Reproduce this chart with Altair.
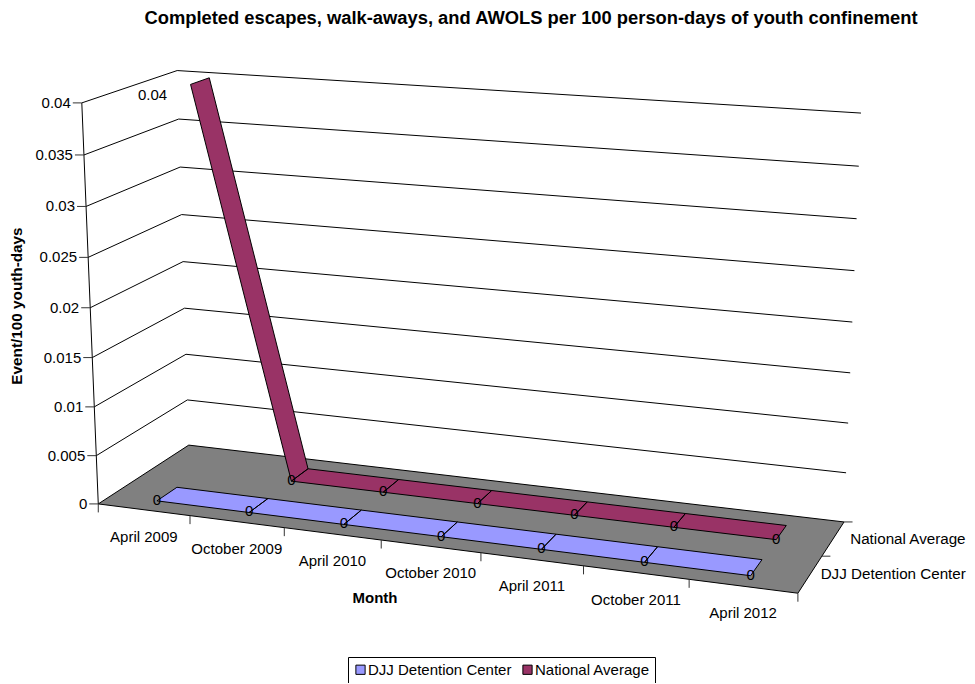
import altair as alt
import numpy as np
import pandas as pd

TITLE = "Completed escapes, walk-aways, and AWOLS per 100 person-days of youth confinement"
MONTHS = ["April 2009", "October 2009", "April 2010", "October 2010", "April 2011", "October 2011", "April 2012"]
SERIES = ["DJJ Detention Center", "National Average"]
DJJ_VALUES = [0, 0, 0, 0, 0, 0, 0]
NATIONAL_VALUES = [0.04, 0, 0, 0, 0, 0, 0]
VALUE_TICKS = [0, 0.005, 0.01, 0.015, 0.02, 0.025, 0.03, 0.035, 0.04]
VALUE_LABELS = ["0", "0.005", "0.01", "0.015", "0.02", "0.025", "0.03", "0.035", "0.04"]
VMAX = 0.04
RIBBON_DEPTH = {"DJJ Detention Center": (0.14, 0.36), "National Average": (0.645, 0.855)}
COLORS = ["#9999FF", "#993366"]
FONT = "Liberation Sans"
FS = 15

# camera calibration: (month fraction, depth fraction, height fraction) -> page pixel
CAL_SCENE = [(0, 0, 0), (1, 0, 0), (0, 1, 0), (1, 1, 0), (0, 0, 1), (0, 1, 1), (1, 1, 1), (1, 1, 0.125)]
CAL_PIXEL = [(98, 504), (798, 593), (189, 445), (844, 522), (82, 103), (177, 70.5), (861, 113), (846, 473)]

rows = []
for (a, b, c), (px, py) in zip(CAL_SCENE, CAL_PIXEL):
    rows.append([a, b, c, 1, 0, 0, 0, 0, -px * a, -px * b, -px * c, -px])
    rows.append([0, 0, 0, 0, a, b, c, 1, -py * a, -py * b, -py * c, -py])
P = np.linalg.svd(np.array(rows, float))[2][-1].reshape(3, 4)


def proj(u, v, w):
    h = P @ np.array([u, v, w, 1.0])
    return float(h[0] / h[2]), float(h[1] / h[2])


def lines(paths):
    out = []
    for g, path in enumerate(paths):
        for o, (x, y) in enumerate(path):
            out.append({"g": g, "o": o, "x": x, "y": y})
    return pd.DataFrame(out)


def area_rows(name, pts, series=None):
    out = []
    n = len(pts)
    for x in sorted({round(p[0], 4) for p in pts}):
        ys = []
        for i in range(n):
            (x0, y0), (x1, y1) = pts[i], pts[(i + 1) % n]
            lo, hi = min(x0, x1), max(x0, x1)
            if lo - 1e-3 <= x <= hi + 1e-3:
                if abs(x1 - x0) < 1e-6:
                    ys += [y0, y1]
                else:
                    ys.append(y0 + (y1 - y0) * (x - x0) / (x1 - x0))
        out.append({"g": name, "x": x, "y": min(ys), "y2": max(ys), "Series": series})
    return out


PAD_TOP = 40
W, H = 959, 675 - PAD_TOP
xs = alt.Scale(domain=[8, 8 + W], range=[0, W])
ys = alt.Scale(domain=[8 + PAD_TOP, 8 + PAD_TOP + H], range=[0, H])
X = alt.X("x:Q", scale=xs, axis=None)
Y = alt.Y("y:Q", scale=ys, axis=None)


def line_layer(df, color="black", width=1.0):
    return alt.Chart(df).mark_line(color=color, strokeWidth=width).encode(x=X, y=Y, detail="g:N", order="o:Q")


def text_layer(df, align="center", bold=False, angle=0, size=FS):
    return alt.Chart(df).mark_text(font=FONT, fontSize=size, color="black", align=align, baseline="middle",
                                   fontWeight="bold" if bold else "normal", angle=angle).encode(x=X, y=Y, text="t:N")


n = len(MONTHS)
uc = [(i + 0.5) / n for i in range(n)]

# walls
wall = []
for t in VALUE_TICKS[1:]:
    w = t / VMAX
    wall.append([proj(0, 0, w), proj(0, 1, w), proj(1, 1, w)])
wall.append([proj(0, 0, 0), proj(0, 0, 1)])

# floor
floor_pts = [proj(0, 0, 0), proj(1, 0, 0), proj(1, 1, 0), proj(0, 1, 0)]
floor_df = pd.DataFrame(area_rows("floor", floor_pts))

# ticks
ticks = []
for i in range(n + 1):
    x, y = proj(i / n, 0, 0)
    ticks.append([(x, y), (x, y + 8.5)])
for v in (0.5, 1):
    x, y = proj(1, v, 0)
    ticks.append([(x, y), (x + 8.5, y)])
for t in VALUE_TICKS:
    x, y = proj(0, 0, t / VMAX)
    ticks.append([(x - 9, y), (x, y)])

# ribbons
ribbon_rows, ribbon_paths, point_labels, peak_labels = [], [], [], []
for s, vals in zip(SERIES, [DJJ_VALUES, NATIONAL_VALUES]):
    vf, vb = RIBBON_DEPTH[s]
    for i in range(n - 1):
        w0, w1 = vals[i] / VMAX, vals[i + 1] / VMAX
        poly = [proj(uc[i], vf, w0), proj(uc[i + 1], vf, w1), proj(uc[i + 1], vb, w1), proj(uc[i], vb, w0)]
        ribbon_rows += area_rows(f"{s}{i}", poly, s)
        ribbon_paths.append(poly + [poly[0]])
    for i, val in enumerate(vals):
        x, y = proj(uc[i], vf, val / VMAX)
        if val:
            peak_labels.append({"x": x - 38, "y": y + 11, "t": str(val)})
        else:
            point_labels.append({"x": x, "y": y - 1, "t": str(val)})

ribbon_df = pd.DataFrame(ribbon_rows)

cat_labels = []
for i, m in enumerate(MONTHS):
    x, y = proj(uc[i], 0, 0)
    cat_labels.append({"x": x, "y": y + 27, "t": m})

val_labels = []
for t, lab in zip(VALUE_TICKS, VALUE_LABELS):
    x, y = proj(0, 0, t / VMAX)
    val_labels.append({"x": x - 11, "y": y, "t": lab})

depth_labels = []
for s, v, dx in zip(SERIES, (0.25, 0.75), (10.5, 17)):
    x, y = proj(1, v, 0)
    depth_labels.append({"x": x + dx, "y": y, "t": s})

layers = [
    line_layer(lines(wall)),
    alt.Chart(floor_df).mark_area(color="#808080").encode(x=X, y=Y, y2="y2:Q", detail="g:N"),
    line_layer(lines([floor_pts + [floor_pts[0]]])),
    line_layer(lines(ticks), color="#333333"),
    alt.Chart(ribbon_df).mark_area().encode(
        x=X, y=Y, y2="y2:Q", detail="g:N",
        color=alt.Color("Series:N", scale=alt.Scale(domain=SERIES, range=COLORS),
                        legend=alt.Legend(title=None, orient="none", legendX=340, legendY=609, direction="horizontal",
                                          strokeColor="black", fillColor="white", padding=5, symbolType="square",
                                          symbolSize=85, symbolStrokeColor="black", symbolStrokeWidth=1,
                                          labelFont=FONT, labelFontSize=FS, labelColor="black", columnPadding=8,
                                          labelOffset=0, symbolOpacity=1, labelLimit=300)),
    ),
    line_layer(lines(ribbon_paths)),
    text_layer(pd.DataFrame(point_labels)),
    text_layer(pd.DataFrame(peak_labels)),
    text_layer(pd.DataFrame(cat_labels)),
    text_layer(pd.DataFrame(val_labels), align="right"),
    text_layer(pd.DataFrame(depth_labels), align="left", size=15.2),
    text_layer(pd.DataFrame([{"x": 375, "y": 598, "t": "Month"}]), bold=True),
    text_layer(pd.DataFrame([{"x": 16.5, "y": 306, "t": "Event/100 youth-days"}]), bold=True, angle=270, size=15.3),
]

chart = alt.layer(*layers).properties(
    width=W, height=H,
    title=alt.TitleParams(TITLE, anchor="middle", frame="group", dx=43.5, offset=20, font=FONT, fontSize=18.35,
                          fontWeight="bold", color="black"),
    padding={"left": 0, "right": 0, "top": PAD_TOP, "bottom": 0},
    autosize=alt.AutoSizeParams(type="none"),
).configure_view(stroke=None)

chart.save("out.html", embed_options={"renderer": "svg", "actions": False})
